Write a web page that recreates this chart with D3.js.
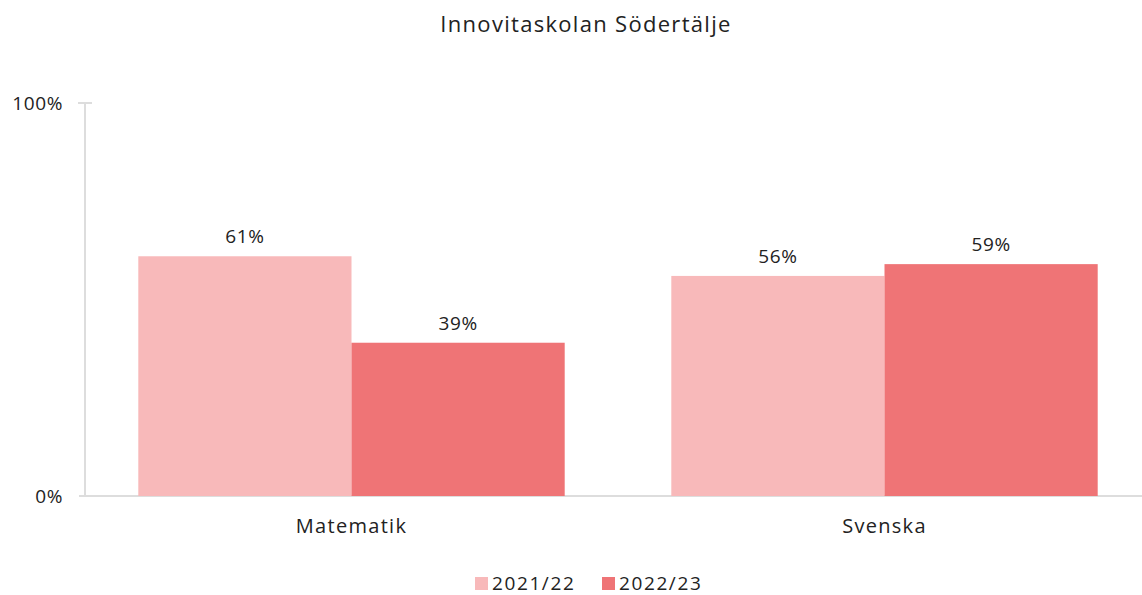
<!DOCTYPE html>
<html>
<head>
<meta charset="utf-8">
<script src="https://cdn.jsdelivr.net/npm/d3@7"></script>
<style>
  body { margin: 0; background: #fff; }
  text { font-family: "Open Sans", Lato, sans-serif; fill: #222; letter-spacing: 0.6px; }
  .wide { letter-spacing: 1.3px; }
  .leg text { letter-spacing: 1.6px; }
</style>
</head>
<body>
<div id="chart"></div>
<script>
const title = "Innovitaskolan Södertälje"
const subjects = ["Matematik", "Svenska"]
const years = ["2021/22", "2022/23"]
const values2122 = [61, 56]
const values2223 = [39, 59]
const yTicks = [0, 100]

const w = 1142, h = 595
const mLeft = 85, mRight = 1151, mTop = 103, mBottom = 496
const colors = ["#f8b9ba", "#ef7476"]

const rows = subjects.map((s, i) => ({ subject: s, vals: [values2122[i], values2223[i]] }))

const svg = d3.select("#chart").append("svg")
  .attr("width", w).attr("height", h)

const x0 = d3.scaleBand().domain(subjects).range([mLeft, mRight]).paddingInner(0.2).paddingOuter(0.1)
const x1 = d3.scaleBand().domain(years).range([0, x0.bandwidth()])
const y = d3.scaleLinear().domain([0, 100]).range([mBottom, mTop])

// axes
svg.append("line").attr("x1", mLeft).attr("x2", mLeft).attr("y1", mTop).attr("y2", mBottom)
  .attr("stroke", "#dddddd").attr("stroke-width", 2)
svg.append("line").attr("x1", mLeft - 7).attr("x2", mLeft + 7).attr("y1", y(100)).attr("y2", y(100))
  .attr("stroke", "#dddddd").attr("stroke-width", 2)
svg.append("line").attr("x1", mLeft - 6).attr("x2", w).attr("y1", mBottom).attr("y2", mBottom)
  .attr("stroke", "#dddddd").attr("stroke-width", 2)

svg.selectAll(".ytick").data(yTicks).enter().append("text")
  .attr("x", 63).attr("y", d => y(d)).attr("dy", "0.35em")
  .attr("text-anchor", "end").attr("font-size", 19)
  .text(d => d + "%")

const g = svg.selectAll(".grp").data(rows).enter().append("g")
  .attr("transform", d => "translate(" + x0(d.subject) + ",0)")

g.selectAll("rect").data(d => d.vals).enter().append("rect")
  .attr("x", (d, i) => x1(years[i]))
  .attr("y", d => y(d))
  .attr("width", x1.bandwidth())
  .attr("height", d => mBottom - y(d))
  .attr("fill", (d, i) => colors[i])

g.selectAll(".lbl").data(d => d.vals).enter().append("text")
  .attr("x", (d, i) => x1(years[i]) + x1.bandwidth() / 2)
  .attr("y", d => y(d) - 13)
  .attr("text-anchor", "middle").attr("font-size", 19)
  .text(d => d + "%")

svg.selectAll(".cat").data(subjects).enter().append("text")
  .attr("class", "wide")
  .attr("x", d => x0(d) + x0.bandwidth() / 2)
  .attr("y", 533)
  .attr("text-anchor", "middle").attr("font-size", 20)
  .text(d => d)

svg.append("text").attr("class", "wide").attr("x", 586).attr("y", 32)
  .attr("text-anchor", "middle").attr("font-size", 22)
  .text(title)

// legend
const legX = [475, 602]
const leg = svg.selectAll(".leg").data(years).enter().append("g")
  .attr("class", "leg")
  .attr("transform", (d, i) => "translate(" + legX[i] + ",577)")
leg.append("rect").attr("width", 13).attr("height", 13).attr("fill", (d, i) => colors[i])
leg.append("text").attr("x", 17).attr("y", 13).attr("font-size", 19).text(d => d)
</script>
</body>
</html>
